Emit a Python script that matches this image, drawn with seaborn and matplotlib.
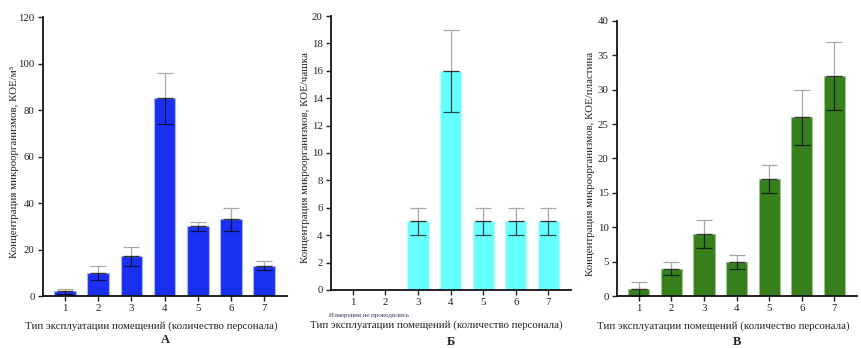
import numpy as np
import pandas as pd
import matplotlib
matplotlib.use("Agg")
import matplotlib.pyplot as plt
import matplotlib.transforms as mtransforms
import seaborn as sns

# Room operation types (number of staff)
categories = ["1", "2", "3", "4", "5", "6", "7"]

# А: air, CFU/m³
air_mean = [2, 10, 17, 85, 30, 33, 13]
air_low = [1, 7, 13, 74, 28, 28, 11]
air_high = [3, 13, 21, 96, 32, 38, 15]

# Б: sedimentation, CFU/dish (types 1–2 not measured)
dish_mean = [np.nan, np.nan, 5, 16, 5, 5, 5]
dish_low = [np.nan, np.nan, 4, 13, 4, 4, 4]
dish_high = [np.nan, np.nan, 6, 19, 6, 6, 6]

# В: surfaces, CFU/plate
plate_mean = [1, 4, 9, 5, 17, 26, 32]
plate_low = [0, 3, 7, 4, 15, 22, 27]
plate_high = [2, 5, 11, 6, 19, 30, 37]

sns.set_theme(style="ticks")
plt.rcParams["font.family"] = ["Liberation Serif", "DejaVu Serif"]
plt.rcParams["text.color"] = "#222222"
plt.rcParams["axes.labelcolor"] = "#222222"
plt.rcParams["xtick.color"] = "#222222"
plt.rcParams["ytick.color"] = "#222222"

fig = plt.figure(figsize=(8.62, 3.48), dpi=100)

panels = [
    dict(pos=[0.0499, 0.1494, 0.2832, 0.8016], mean=air_mean, low=air_low, high=air_high,
         color="#1a30f0", edge="#aab4f8", ylim=(0, 120), yticks=np.arange(0, 121, 20),
         ylabel="Концентрация микроорганизмов, КОЕ/м³", letter="А", lab_x=0.022,
         letter_y=1 - 340 / 348, xlab=(0.4426, -0.0914)),
    dict(pos=[0.3840, 0.1667, 0.2784, 0.7873], mean=dish_mean, low=dish_low, high=dish_high,
         color="#66ffff", edge="#b8ffff", ylim=(0, 20), yticks=np.arange(0, 21, 2),
         ylabel="Концентрация микроорганизмов, КОЕ/чашка", letter="Б", lab_x=0.3597,
         letter_y=1 - 342 / 348, xlab=(0.4375, -0.1113)),
    dict(pos=[0.7158, 0.1494, 0.2784, 0.7903], mean=plate_mean, low=plate_low, high=plate_high,
         color="#367f1c", edge="#9cc48c", ylim=(0, 40), yticks=np.arange(0, 41, 5),
         ylabel="Концентрация микроорганизмов, КОЕ/пластина", letter="В", lab_x=0.690,
         letter_y=1 - 342 / 348, xlab=(0.4417, -0.0927)),
]

for i, p in enumerate(panels):
    ax = fig.add_axes(p["pos"])
    df = pd.DataFrame({"type": categories, "value": p["mean"]})
    sns.barplot(data=df, x="type", y="value", order=categories, ax=ax,
                color=p["color"], saturation=1, width=0.65,
                edgecolor=p["edge"], linewidth=0.8, errorbar=None)
    x = np.arange(len(categories))
    mean = np.array(p["mean"], dtype=float)
    lo = np.array(p["low"], dtype=float)
    hi = np.array(p["high"], dtype=float)
    ok = ~np.isnan(mean)
    # upper whisker: light grey over white background
    ax.errorbar(x[ok], mean[ok], yerr=[np.zeros(ok.sum()), hi[ok] - mean[ok]],
                fmt="none", ecolor="#a8a8a8", elinewidth=0.9, capsize=5.5, capthick=0.9)
    # lower whisker: dark over the bar
    ax.errorbar(x[ok], mean[ok], yerr=[mean[ok] - lo[ok], np.zeros(ok.sum())],
                fmt="none", ecolor=(0, 0, 0, 0.7), elinewidth=0.9, capsize=5.5, capthick=0.9)

    ax.set_xlim(-0.665, 6.69)
    ax.set_ylim(*p["ylim"])
    ax.set_yticks(p["yticks"])
    ax.set_yticklabels([str(int(t)) for t in p["yticks"]])
    ax.tick_params(axis="both", labelsize=7.8, length=3.5, width=1.0, pad=2.5)
    for s in ["top", "right"]:
        ax.spines[s].set_visible(False)
    for s in ["left", "bottom"]:
        ax.spines[s].set_linewidth(1.3)
        ax.spines[s].set_color("#111111")
    ax.set_xlabel("Тип эксплуатации помещений (количество персонала)", fontsize=7.8)
    ax.xaxis.set_label_coords(*p["xlab"])
    ax.set_ylabel(p["ylabel"], fontsize=7.8)
    ax.yaxis.set_label_coords(
        p["lab_x"], 0.482,
        transform=mtransforms.blended_transform_factory(fig.transFigure, ax.transAxes))
    fig.text(p["pos"][0] + p["pos"][2] / 2, p["letter_y"], p["letter"], ha="center",
             va="center", fontsize=9, fontweight="bold")
    if i == 1:
        ax.text(0.5, -0.083, "Измерения не проводились", transform=ax.get_xaxis_transform(),
                ha="center", va="top", fontsize=5, color="#2f3555")

fig.savefig("out.png", dpi=100)
